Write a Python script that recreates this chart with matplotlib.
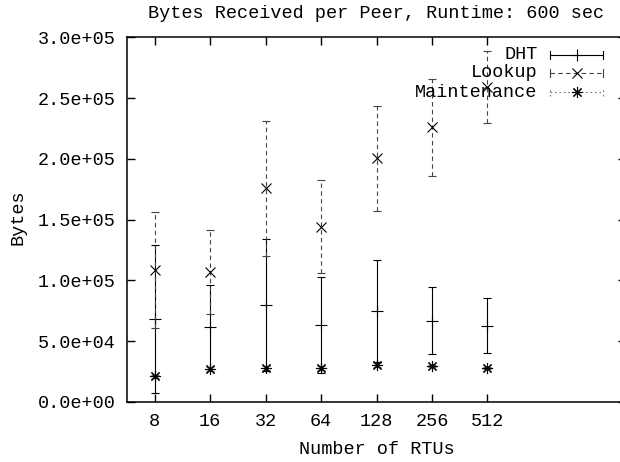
import matplotlib
matplotlib.use('Agg')
import matplotlib.pyplot as plt
import numpy as np

rtus = [8, 16, 32, 64, 128, 256, 512]
dht_mean = [68000, 62000, 79800, 63400, 74600, 66900, 62800]
dht_std = [61000, 34500, 54000, 39200, 42000, 27600, 22800]
lookup_mean = [108600, 106700, 175900, 144300, 200500, 226000, 259000]
lookup_std = [47500, 34500, 55500, 38000, 43000, 40000, 29600]
maint_mean = [21000, 26900, 28200, 28000, 30500, 29600, 28200]
maint_std = [1500, 1500, 1500, 1500, 1500, 1200, 1000]

plt.rcParams['font.family'] = ['Liberation Mono', 'DejaVu Sans Mono']
plt.rcParams['font.size'] = 13.3

x = np.log2(rtus)

fig = plt.figure(figsize=(6.2, 4.62), dpi=100)
ax = fig.add_axes([0.2048, 0.1299, 0.805, 0.789])

series = [
    ('DHT', dht_mean, dht_std, '+', 8, '-', 'black'),
    ('Lookup', lookup_mean, lookup_std, 'x', 7, (0, (4, 3)), '#444444'),
    ('Maintenance', maint_mean, maint_std, (8, 2, 0), 8, (0, (1.5, 2.5)), '#777777'),
]

for name, m, s, mk, ms, ls, col in series:
    eb = ax.errorbar(x, m, yerr=s, fmt='none', ecolor=col, elinewidth=0.8,
                     capsize=3, capthick=0.8)
    eb[2][0].set_linestyle(ls)
    ax.plot(x, m, linestyle='none', marker=mk, markersize=ms, color='black',
            markeredgewidth=0.8)

# gnuplot-style key
rows = [0.952, 0.9026, 0.8498]
for (name, m, s, mk, ms, ls, col), yk in zip(series, rows):
    ax.text(0.8224, yk, name, transform=ax.transAxes, ha='right', va='center')
    ax.plot([0.848, 0.954], [yk, yk], transform=ax.transAxes, color=col,
            linestyle=ls, linewidth=0.8, clip_on=False)
    for xe in (0.848, 0.954):
        ax.plot([xe, xe], [yk - 0.011, yk + 0.011], transform=ax.transAxes,
                color=col, linewidth=0.8, linestyle=ls if name == 'Maintenance' else '-',
                clip_on=False)
    ax.plot([0.901], [yk], transform=ax.transAxes, marker=mk, markersize=ms,
            color='black', markeredgewidth=0.8, linestyle='none', clip_on=False)

ax.set_xlim(2.5, 11.5)
ax.set_ylim(0, 300000)
ax.set_xticks(x)
ax.set_xticklabels([str(r) for r in rtus])
ax.set_yticks(np.arange(0, 300001, 50000))
ax.set_yticklabels(['%.1e' % v for v in np.arange(0, 300001, 50000)])
ax.tick_params(direction='in', length=5.5, width=1.0, top=True, right=True, pad=8)

for sp in ax.spines.values():
    sp.set_linewidth(1.1)

ax.set_xlabel('Number of RTUs')
ax.xaxis.set_label_coords(0.5, -0.1317)
ax.xaxis.label.set_va('center')
ax.set_ylabel('Bytes')
ax.yaxis.set_label_coords(-0.2176, 0.506)
ax.yaxis.label.set_va('center')

ax.text(0.5, 1.0645, 'Bytes Received per Peer, Runtime: 600 sec',
        transform=ax.transAxes, ha='center', va='center')

fig.savefig('out.png', dpi=100)
